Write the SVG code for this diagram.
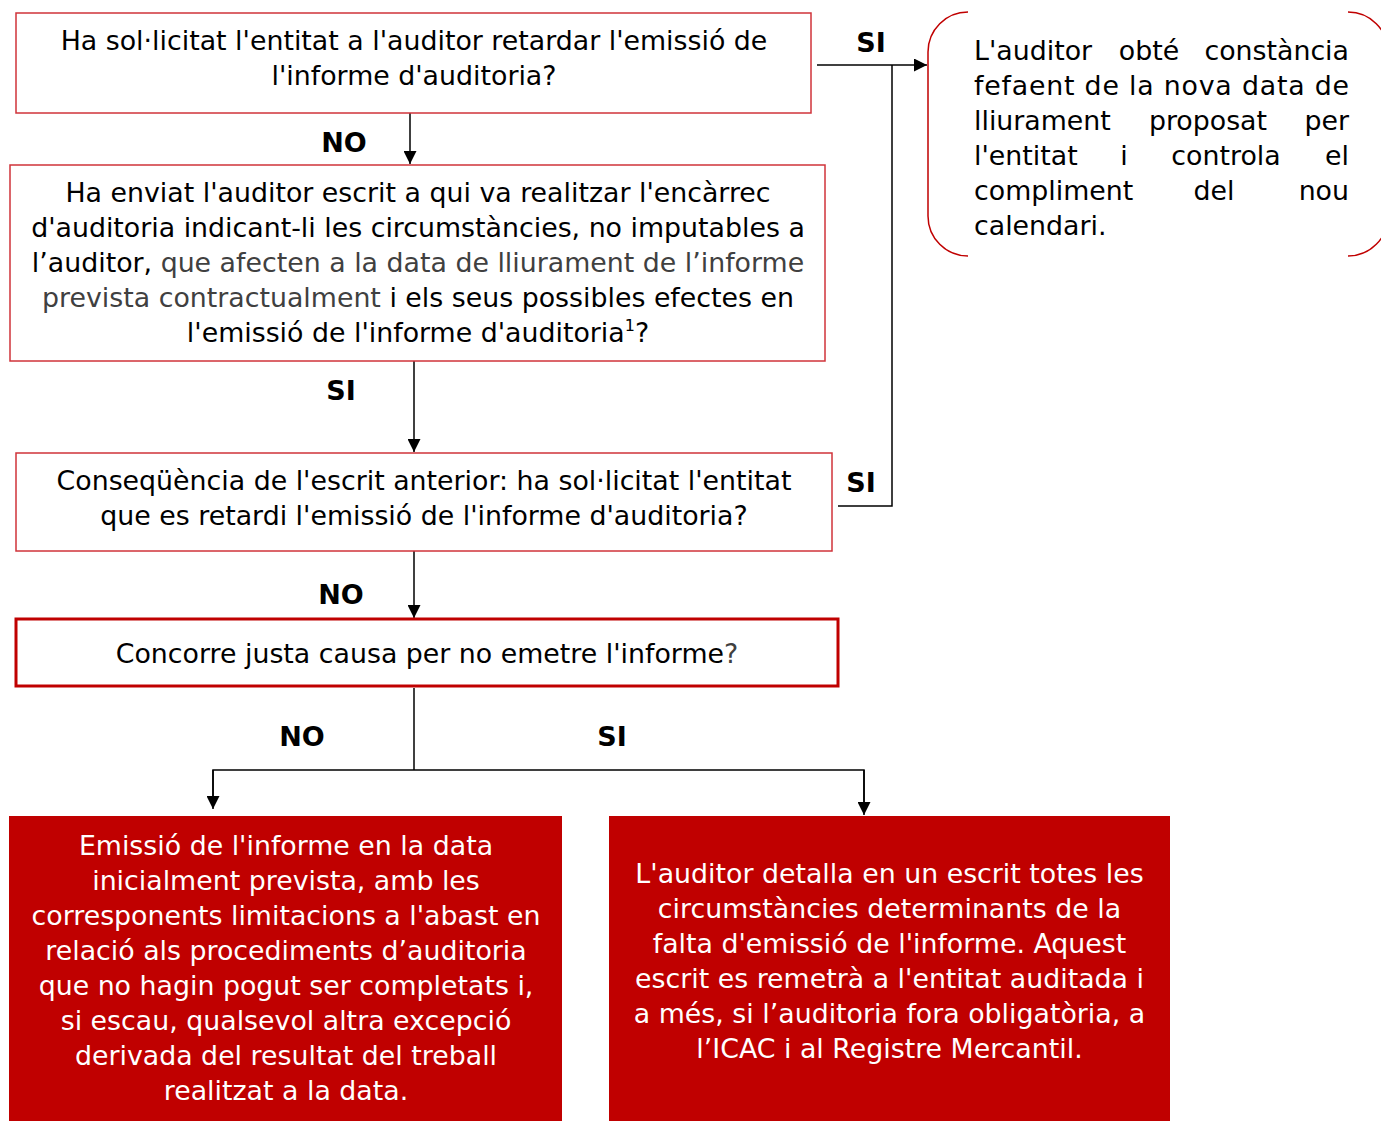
<svg xmlns="http://www.w3.org/2000/svg" width="1381" height="1121" viewBox="0 0 1381 1121">
<defs>
<style>
text{font-family:"DejaVu Sans","Verdana",sans-serif;font-size:26.8px;fill:#000}
.c{text-anchor:middle}
.e{text-anchor:end}
.g{fill:#404040}
.w{fill:#fff}
.lbl{font-weight:bold;text-anchor:middle;font-size:27px}
.box{fill:#fff;stroke:#d0333a;stroke-width:1.5}
.box2{fill:#fff;stroke:#c00000;stroke-width:3}
.fill{fill:#c00000;stroke:none}
.edge{fill:none;stroke:#000;stroke-width:1.5}
</style>
<marker id="ahb" viewBox="0 0 12 12" refX="12" refY="6" markerWidth="13" markerHeight="13" markerUnits="userSpaceOnUse" orient="auto">
<path d="M0,0 L12,6 L0,12 z" fill="#000"/>
</marker>
</defs>
<rect width="1381" height="1121" fill="#fff"/>

<g id="connectors">
<line class="edge" x1="410" y1="113" x2="410" y2="164" marker-end="url(#ahb)"/>
<line class="edge" x1="414" y1="361" x2="414" y2="452" marker-end="url(#ahb)"/>
<line class="edge" x1="414" y1="551" x2="414" y2="618" marker-end="url(#ahb)"/>
<line class="edge" x1="817" y1="65" x2="927" y2="65" marker-end="url(#ahb)"/>
<polyline class="edge" points="838,506 892,506 892,65" stroke="#333"/>
<line class="edge" x1="414" y1="688" x2="414" y2="770"/>
<polyline class="edge" points="213,800 213,770 864,770 864,805"/>
<line class="edge" x1="213" y1="770" x2="213" y2="809" marker-end="url(#ahb)"/>
<line class="edge" x1="864" y1="770" x2="864" y2="815" marker-end="url(#ahb)"/>
<text class="lbl" x="344" y="152">NO</text>
<text class="lbl" x="871" y="52">SI</text>
<text class="lbl" x="341" y="400">SI</text>
<text class="lbl" x="861" y="492">SI</text>
<text class="lbl" x="341" y="604">NO</text>
<text class="lbl" x="302" y="746">NO</text>
<text class="lbl" x="612" y="746">SI</text>
</g>

<g id="q1">
<rect class="box" x="16" y="13" width="795" height="100"/>
<text class="c" x="414" y="50">Ha sol·licitat l'entitat a l'auditor retardar l'emissió de</text>
<text class="c" x="414" y="85">l'informe d'auditoria?</text>
</g>

<g id="q2">
<rect class="box" x="10" y="165" width="815" height="196"/>
<text class="c" x="418" y="202">Ha enviat l'auditor escrit a qui va realitzar l'encàrrec</text>
<text class="c" x="418" y="237">d'auditoria indicant-li les circumstàncies, no imputables a</text>
<text class="c" x="418" y="272">l’auditor, <tspan class="g">que afecten a la data de lliurament de l’informe</tspan></text>
<text class="c" x="418" y="307"><tspan class="g">prevista contractualment</tspan> i els seus possibles efectes en</text>
<text class="c" x="418" y="342">l'emissió de l'informe d'auditoria<tspan font-size="16" dy="-11">1</tspan><tspan dy="11">?</tspan></text>
</g>

<g id="q3">
<rect class="box" x="16" y="453" width="816" height="98"/>
<text class="c" x="424" y="490">Conseqüència de l'escrit anterior: ha sol·licitat l'entitat</text>
<text class="c" x="424" y="525">que es retardi l'emissió de l'informe d'auditoria?</text>
</g>

<g id="q4">
<rect class="box2" x="16" y="619" width="822" height="67"/>
<text class="c" x="427" y="663">Concorre justa causa per no emetre l'informe<tspan class="g">?</tspan></text>
</g>

<g id="newdate">
<path d="M968,12 A40,40 0 0 0 928,52 L928,216 A40,40 0 0 0 968,256" fill="none" stroke="#c00000" stroke-width="1.5"/>
<path d="M1348,12 A40,40 0 0 1 1388,52 L1388,216 A40,40 0 0 1 1348,256" fill="none" stroke="#c00000" stroke-width="1.5"/>
<text x="974" y="60">L'auditor</text>
<text class="c" x="1149" y="60">obté</text>
<text class="e" x="1349" y="60">constància</text>
<text x="974" y="95" textLength="375" lengthAdjust="spacing">fefaent de la nova data de</text>
<text x="974" y="130">lliurament</text>
<text class="c" x="1208" y="130">proposat</text>
<text class="e" x="1349" y="130">per</text>
<text x="974" y="165">l'entitat</text>
<text class="c" x="1124" y="165">i</text>
<text class="c" x="1226" y="165">controla</text>
<text class="e" x="1349" y="165">el</text>
<text x="974" y="200">compliment</text>
<text class="c" x="1214" y="200">del</text>
<text class="e" x="1349" y="200">nou</text>
<text x="974" y="235">calendari.</text>
</g>

<g id="issue">
<rect class="fill" x="9" y="816" width="553" height="305"/>
<text class="c w" x="286" y="855">Emissió de l'informe en la data</text>
<text class="c w" x="286" y="890">inicialment prevista, amb les</text>
<text class="c w" x="286" y="925">corresponents limitacions a l'abast en</text>
<text class="c w" x="286" y="960">relació als procediments d’auditoria</text>
<text class="c w" x="286" y="995">que no hagin pogut ser completats i,</text>
<text class="c w" x="286" y="1030">si escau, qualsevol altra excepció</text>
<text class="c w" x="286" y="1065">derivada del resultat del treball</text>
<text class="c w" x="286" y="1100">realitzat a la data.</text>
</g>

<g id="noissue">
<rect class="fill" x="609" y="816" width="561" height="305"/>
<text class="c w" x="889.5" y="883">L'auditor detalla en un escrit totes les</text>
<text class="c w" x="889.5" y="918">circumstàncies determinants de la</text>
<text class="c w" x="889.5" y="953">falta d'emissió de l'informe. Aquest</text>
<text class="c w" x="889.5" y="988">escrit es remetrà a l'entitat auditada i</text>
<text class="c w" x="889.5" y="1023">a més, si l’auditoria fora obligatòria, a</text>
<text class="c w" x="889.5" y="1058">l’ICAC i al Registre Mercantil.</text>
</g>
</svg>
